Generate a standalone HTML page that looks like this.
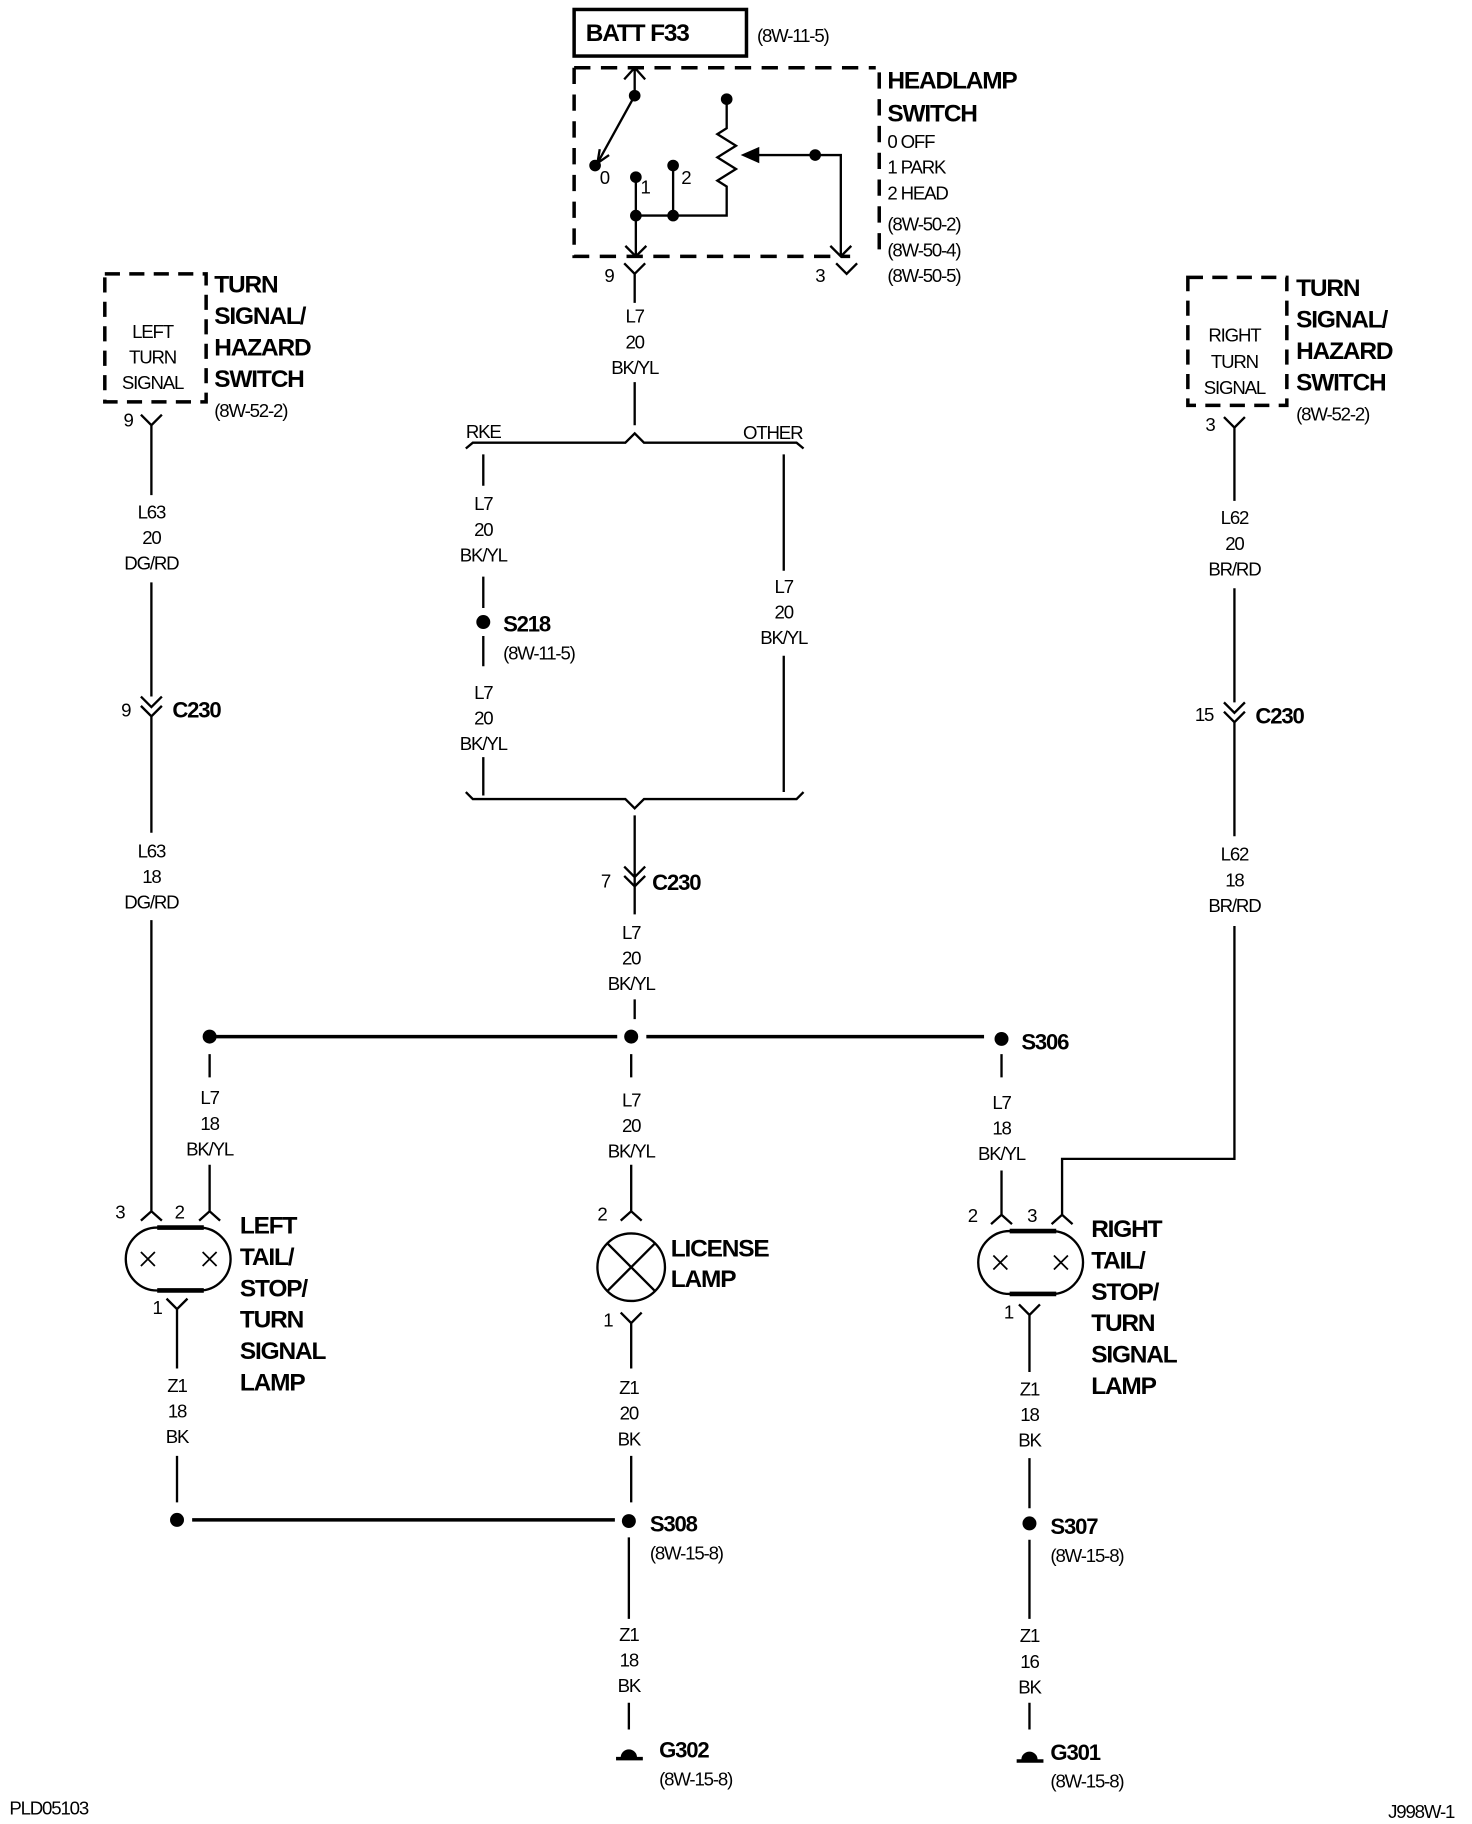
<!DOCTYPE html>
<html><head><style>
html,body{margin:0;padding:0;background:#fff;}
svg{display:block;}
text{font-family:"Liberation Sans",sans-serif;fill:#000;}
.s{font-size:16px;letter-spacing:-1px;text-anchor:middle;}
.l{font-size:16px;letter-spacing:-1px;}
.b{font-size:21px;font-weight:bold;letter-spacing:-1px;}
</style></head><body>
<svg width="1472" height="1824" viewBox="0 0 1264 1566" xmlns="http://www.w3.org/2000/svg">
<g fill="none" stroke="#000" stroke-width="2">
<rect x="493" y="8" width="148" height="40" stroke-width="3"/>
<path d="M493 58 H752 M493 58 V220 H730 M755 62 V222" stroke-width="3" stroke-dasharray="14,9"/>
<path d="M536 68 L545 58 L554 68 M545 58 V82 L513 140"/>
<path d="M513 140 l2 -12 M513 140 l10 -7"/>
<path d="M546 152 V220 M537 211 L546 220 L555 211 M546 185 H624 V160 L616 155 L632 145 L616 135 L632 125 L616 115 L624 110 V85"/>
<path d="M578 142 V185"/>
<path d="M650 133 H722 V220 M713 211 L722 220 L731 211"/>
<path d="M536 226 L545 235 L554 226 M545 235 V260 M545 328 V365"/>
<path d="M718 226 L727 235 L736 226"/>
<path d="M400 385 L406 380 H537 L545 372 L553 380 H684 L690 385"/>
<path d="M415 390 V417 M415 495 V522 M415 546 V572 M415 650 V683"/>
<path d="M673 390 V490 M673 563 V680"/>
<path d="M400 680 L406 686 H537 L545 694 L553 686 H684 L690 680"/>
<path d="M545 700 V760 M536 744 L545 753 L554 744 M536 752 L545 761 L554 752 M545 761 V785 M545 858 V875"/>
<path d="M180 890 H530 M555 890 H845" stroke-width="3"/>
<path d="M180 905 V925 M180 1000 V1040 M171 1048 L180 1040 L189 1048"/>
<path d="M542 905 V925 M542 1000 V1040 M533 1048 L542 1040 L551 1048"/>
<path d="M860 905 V925 M860 1005 V1043 M851 1051 L860 1043 L869 1051"/>
<path d="M121 356 L130 365 L139 356 M130 365 V425 M130 500 V598"/>
<path d="M121 598 L130 607 L139 598 M121 606 L130 615 L139 606 M130 615 V715 M130 790 V1040 M121 1048 L130 1040 L139 1048"/>
<path d="M1051 358 L1060 367 L1069 358 M1060 367 V430 M1060 505 V603"/>
<path d="M1051 603 L1060 612 L1069 603 M1051 611 L1060 620 L1069 611 M1060 620 V718 M1060 795 V995 H912 V1043 M903 1051 L912 1043 L921 1051"/>
<path d="M135 1054 H171 A27 27 0 0 1 171 1108 H135 A27 27 0 0 1 135 1054 Z"/>
<path d="M135 1054 H175 M135 1108 H175" stroke-width="4"/>
<path d="M121 1075 l12 12 M133 1075 l-12 12 M174 1075 l12 12 M186 1075 l-12 12" stroke-width="1.5"/>
<path d="M143 1115 L152 1124 L161 1115 M152 1124 V1175 M152 1250 V1290"/>
<path d="M165 1305 H528" stroke-width="3"/>
<circle cx="542" cy="1088" r="29"/>
<path d="M521 1067 L563 1109 M563 1067 L521 1109"/>
<path d="M533 1127 L542 1136 L551 1127 M542 1136 V1175 M542 1250 V1290 M540 1320 V1390 M540 1462 V1485"/>
<path d="M867 1057 H903 A27 27 0 0 1 903 1111 H867 A27 27 0 0 1 867 1057 Z"/>
<path d="M867 1057 H907 M867 1111 H907" stroke-width="4"/>
<path d="M853 1078 l12 12 M865 1078 l-12 12 M905 1078 l12 12 M917 1078 l-12 12" stroke-width="1.5"/>
<path d="M875 1120 L884 1129 L893 1120 M884 1129 V1178 M884 1252 V1295 M884 1322 V1390 M884 1462 V1485"/>
<path d="M90 235 H177 V345 H90 Z" stroke-width="3" stroke-dasharray="13,8"/>
<path d="M1020 238 H1105 V348 H1020 Z" stroke-width="3" stroke-dasharray="13,8"/>
<path d="M529 1510 H552 M873 1512 H896" stroke-width="3"/>
</g>
<g fill="#000">
<circle cx="545" cy="82" r="5"/><circle cx="511" cy="142" r="5"/><circle cx="546" cy="152" r="5"/><circle cx="578" cy="142" r="5"/>
<circle cx="624" cy="85" r="5"/><circle cx="546" cy="185" r="5"/><circle cx="578" cy="185" r="5"/><circle cx="700" cy="133" r="5"/>
<path d="M636 133 L652 126 L652 140 Z"/>
<circle cx="415" cy="534" r="6"/>
<circle cx="180" cy="890" r="6"/><circle cx="542" cy="890" r="6"/><circle cx="860" cy="892" r="6"/>
<circle cx="152" cy="1305" r="6"/><circle cx="540" cy="1306" r="6"/><circle cx="884" cy="1308" r="6"/>
<path d="M533 1509 A7 7 0 0 1 547 1509 Z"/><path d="M877 1511 A7 7 0 0 1 891 1511 Z"/>
</g>
<text x="503" y="35" class="b">BATT F33</text>
<text x="650" y="36" class="l">(8W-11-5)</text>
<text x="762" y="76" class="b">HEADLAMP</text>
<text x="762" y="104" class="b">SWITCH</text>
<text x="762" y="127" class="l">0 OFF</text>
<text x="762" y="149" class="l">1 PARK</text>
<text x="762" y="171" class="l">2 HEAD</text>
<text x="762" y="198" class="l">(8W-50-2)</text>
<text x="762" y="220" class="l">(8W-50-4)</text>
<text x="762" y="242" class="l">(8W-50-5)</text>
<text x="515" y="158" class="l">0</text><text x="550" y="166" class="l">1</text><text x="585" y="158" class="l">2</text>
<text x="519" y="242" class="l">9</text><text x="700" y="242" class="l">3</text>
<text x="545" y="277" class="s">L7</text><text x="545" y="299" class="s">20</text><text x="545" y="321" class="s">BK/YL</text>
<text x="400" y="376" class="l">RKE</text><text x="638" y="377" class="l">OTHER</text>
<text x="415" y="438" class="s">L7</text><text x="415" y="460" class="s">20</text><text x="415" y="482" class="s">BK/YL</text>
<text x="432" y="542" class="b" style="font-size:19px">S218</text><text x="432" y="566" class="l">(8W-11-5)</text>
<text x="415" y="600" class="s">L7</text><text x="415" y="622" class="s">20</text><text x="415" y="644" class="s">BK/YL</text>
<text x="673" y="509" class="s">L7</text><text x="673" y="531" class="s">20</text><text x="673" y="553" class="s">BK/YL</text>
<text x="516" y="762" class="l">7</text><text x="560" y="764" class="b" style="font-size:19px">C230</text>
<text x="542" y="806" class="s">L7</text><text x="542" y="828" class="s">20</text><text x="542" y="850" class="s">BK/YL</text>
<text x="877" y="901" class="b" style="font-size:19px">S306</text>
<text x="180" y="948" class="s">L7</text><text x="180" y="970" class="s">18</text><text x="180" y="992" class="s">BK/YL</text>
<text x="542" y="950" class="s">L7</text><text x="542" y="972" class="s">20</text><text x="542" y="994" class="s">BK/YL</text>
<text x="860" y="952" class="s">L7</text><text x="860" y="974" class="s">18</text><text x="860" y="996" class="s">BK/YL</text>
<text x="131" y="290" class="s">LEFT</text><text x="131" y="312" class="s">TURN</text><text x="131" y="334" class="s">SIGNAL</text>
<text x="184" y="251" class="b">TURN</text><text x="184" y="278" class="b">SIGNAL/</text><text x="184" y="305" class="b">HAZARD</text><text x="184" y="332" class="b">SWITCH</text>
<text x="184" y="358" class="l">(8W-52-2)</text>
<text x="106" y="366" class="l">9</text>
<text x="130" y="445" class="s">L63</text><text x="130" y="467" class="s">20</text><text x="130" y="489" class="s">DG/RD</text>
<text x="104" y="615" class="l">9</text><text x="148" y="616" class="b" style="font-size:19px">C230</text>
<text x="130" y="736" class="s">L63</text><text x="130" y="758" class="s">18</text><text x="130" y="780" class="s">DG/RD</text>
<text x="1060" y="293" class="s">RIGHT</text><text x="1060" y="316" class="s">TURN</text><text x="1060" y="338" class="s">SIGNAL</text>
<text x="1113" y="254" class="b">TURN</text><text x="1113" y="281" class="b">SIGNAL/</text><text x="1113" y="308" class="b">HAZARD</text><text x="1113" y="335" class="b">SWITCH</text>
<text x="1113" y="361" class="l">(8W-52-2)</text>
<text x="1035" y="370" class="l">3</text>
<text x="1060" y="450" class="s">L62</text><text x="1060" y="472" class="s">20</text><text x="1060" y="494" class="s">BR/RD</text>
<text x="1026" y="619" class="l">15</text><text x="1078" y="621" class="b" style="font-size:19px">C230</text>
<text x="1060" y="739" class="s">L62</text><text x="1060" y="761" class="s">18</text><text x="1060" y="783" class="s">BR/RD</text>
<text x="99" y="1046" class="l">3</text><text x="150" y="1046" class="l">2</text>
<text x="206" y="1059" class="b">LEFT</text><text x="206" y="1086" class="b">TAIL/</text><text x="206" y="1113" class="b">STOP/</text><text x="206" y="1140" class="b">TURN</text><text x="206" y="1167" class="b">SIGNAL</text><text x="206" y="1194" class="b">LAMP</text>
<text x="131" y="1128" class="l">1</text>
<text x="152" y="1195" class="s">Z1</text><text x="152" y="1217" class="s">18</text><text x="152" y="1239" class="s">BK</text>
<text x="513" y="1048" class="l">2</text>
<text x="576" y="1079" class="b">LICENSE</text><text x="576" y="1105" class="b">LAMP</text>
<text x="518" y="1139" class="l">1</text>
<text x="540" y="1197" class="s">Z1</text><text x="540" y="1219" class="s">20</text><text x="540" y="1241" class="s">BK</text>
<text x="558" y="1315" class="b" style="font-size:19px">S308</text><text x="558" y="1339" class="l">(8W-15-8)</text>
<text x="540" y="1409" class="s">Z1</text><text x="540" y="1431" class="s">18</text><text x="540" y="1453" class="s">BK</text>
<text x="566" y="1509" class="b" style="font-size:19px">G302</text><text x="566" y="1533" class="l">(8W-15-8)</text>
<text x="831" y="1049" class="l">2</text><text x="882" y="1049" class="l">3</text>
<text x="937" y="1062" class="b">RIGHT</text><text x="937" y="1089" class="b">TAIL/</text><text x="937" y="1116" class="b">STOP/</text><text x="937" y="1143" class="b">TURN</text><text x="937" y="1170" class="b">SIGNAL</text><text x="937" y="1197" class="b">LAMP</text>
<text x="862" y="1132" class="l">1</text>
<text x="884" y="1198" class="s">Z1</text><text x="884" y="1220" class="s">18</text><text x="884" y="1242" class="s">BK</text>
<text x="902" y="1317" class="b" style="font-size:19px">S307</text><text x="902" y="1341" class="l">(8W-15-8)</text>
<text x="884" y="1410" class="s">Z1</text><text x="884" y="1432" class="s">16</text><text x="884" y="1454" class="s">BK</text>
<text x="902" y="1511" class="b" style="font-size:19px">G301</text><text x="902" y="1535" class="l">(8W-15-8)</text>
<text x="8" y="1558" class="l">PLD05103</text>
<text x="1192" y="1561" class="l">J998W-1</text>
</svg>
</body></html>
